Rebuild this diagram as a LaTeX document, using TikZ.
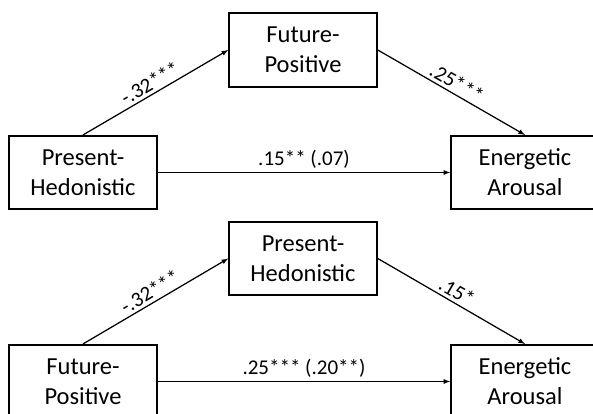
\documentclass[tikz,border=0pt]{standalone}
\usepackage{fontspec}
\setmainfont{Carlito}
\usetikzlibrary{arrows, positioning}

\begin{document}
\begin{tikzpicture}[x=1pt,y=-1pt,>=latex]
  \tikzstyle{every box}=[draw,line width=1.6pt,minimum width=148pt,minimum height=73.5pt,
    align=center,font=\fontsize{24.5}{30}\selectfont]
  \tikzstyle{path lbl}=[font=\fontsize{21}{24}\selectfont,inner sep=3pt]
  \tikzstyle{link}=[->,line width=1.25pt]

  \useasboundingbox (0,0) rectangle (593,414);
  \clip (0,0) rectangle (593,414);

  % first model
  \node[every box] (ph_1) at (83,172.5)  {Present-\\Hedonistic};
  \node[every box] (fp_1) at (303,50)    {Future-\\Positive};
  \node[every box] (ea_1) at (525,172.5) {Energetic\\Arousal};

  \path[link]
  (ph_1.north) edge node[path lbl,sloped,above] {-.32***} (fp_1.west)
  (fp_1.east)  edge node[path lbl,sloped,above] {.25***}  (ea_1.north)
  (ph_1.east)  edge node[path lbl,above] {.15** (.07)} (ea_1.west)
  ;

  % second model
  \node[every box] (fp_2) at (83,381.5)  {Future-\\Positive};
  \node[every box] (ph_2) at (303,258.5) {Present-\\Hedonistic};
  \node[every box] (ea_2) at (525,381.5) {Energetic\\Arousal};

  \path[link]
  (fp_2.north) edge node[path lbl,sloped,above] {-.32***} (ph_2.west)
  (ph_2.east)  edge node[path lbl,sloped,above] {.15*}    (ea_2.north)
  (fp_2.east)  edge node[path lbl,above] {.25*** (.20**)} (ea_2.west)
  ;
\end{tikzpicture}
\end{document}
